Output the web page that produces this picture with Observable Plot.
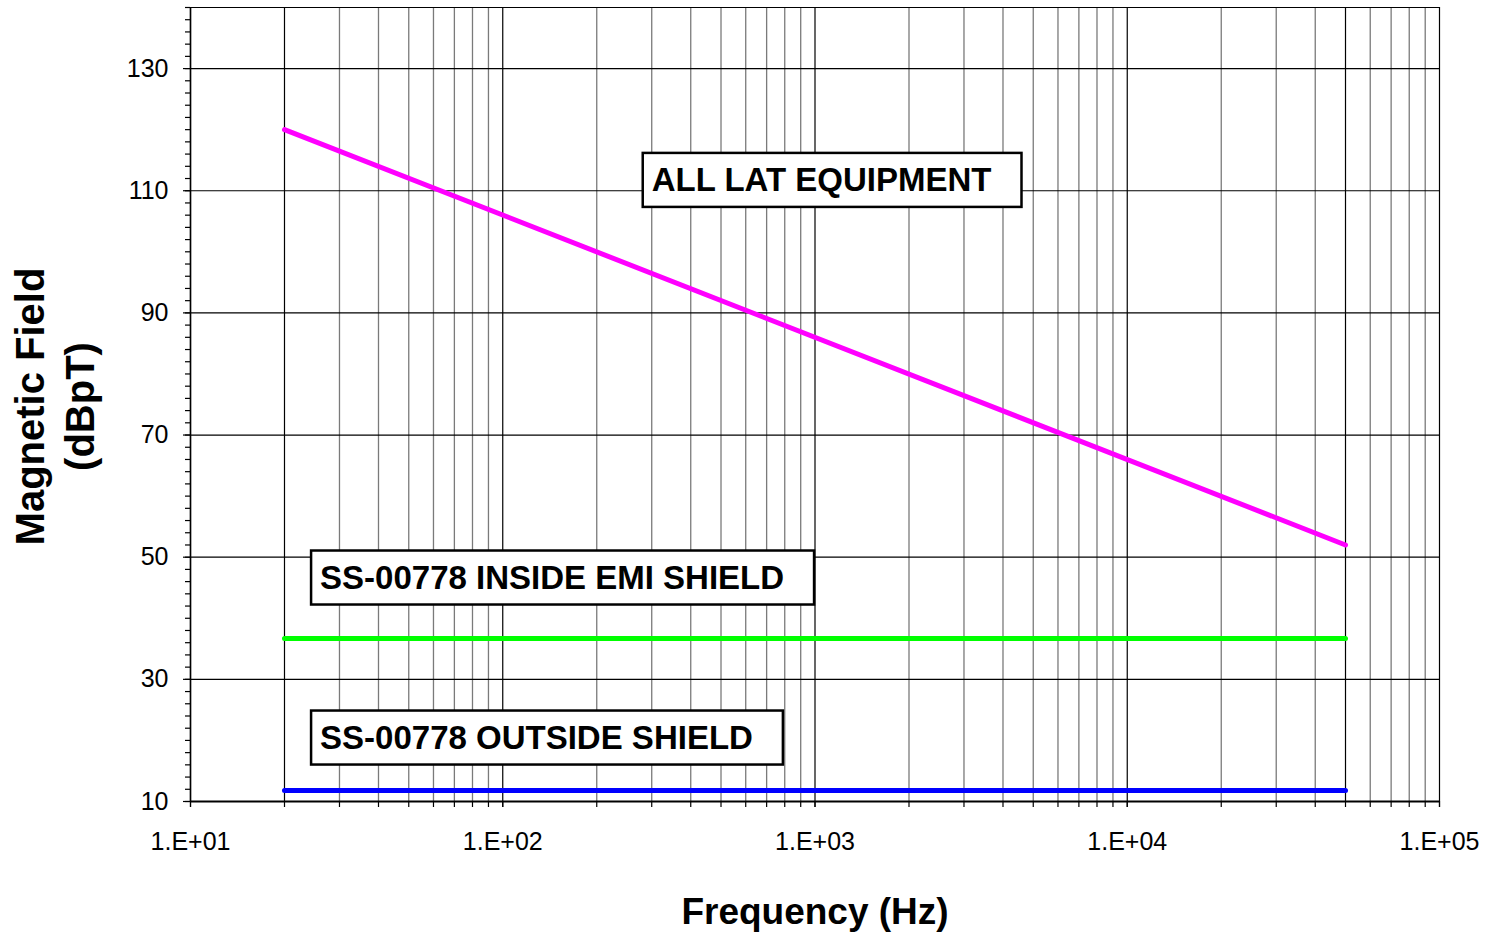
<!DOCTYPE html>
<html>
<head>
<meta charset="utf-8">
<script src="https://cdn.jsdelivr.net/npm/d3@7"></script>
<script src="https://cdn.jsdelivr.net/npm/@observablehq/plot@0.6"></script>
<style>
  html, body { margin: 0; padding: 0; background: #fff; }
  #chart { width: 1493px; height: 937px; }
</style>
</head>
<body>
<div id="chart"></div>
<script>
// Frequency end points of each limit (Hz)
const frequencies = [20, 50000];
// Magnetic field limits (dBpT) at those end points
const allLatEquipment = [120, 52];
const insideEmiShield = [36.7, 36.7];
const outsideShield = [11.8, 11.8];

// Axis ticks
const yMajorTicks = [10, 30, 50, 70, 90, 110, 130];
const decadeTicks = [10, 100, 1000, 10000, 100000];
const decadeLabels = ["1.E+01", "1.E+02", "1.E+03", "1.E+04", "1.E+05"];

// Limit names and where their captions sit (frequency, dBpT)
const labelNames = ["ALL LAT EQUIPMENT", "SS-00778 INSIDE EMI SHIELD", "SS-00778 OUTSIDE SHIELD"];
const labelFreq = [300, 26, 26];
const labelLevel = [111.7, 46.6, 20.4];

const seriesColors = ["#ff00ff", "#00ff00", "#0000ff"];

// Build a long table for the line marks
const seriesValues = [allLatEquipment, insideEmiShield, outsideShield];
const lineRows = seriesValues.flatMap((vals, s) =>
  vals.map((v, i) => ({series: labelNames[s], f: frequencies[i], db: v}))
);
const labelRows = labelNames.map((name, i) => ({name, f: labelFreq[i], db: labelLevel[i]}));

// Log-decade grid: every integer multiple within each decade
const minorX = [];
const allX = [];
for (let k = 1; k <= 4; k++) {
  for (let m = 1; m <= 9; m++) {
    const v = m * 10 ** k;
    allX.push(v);
    if (m !== 1) minorX.push(v);
  }
}
allX.push(100000);
const blackX = [...decadeTicks, ...frequencies];
const minorGrayX = minorX.filter(v => !frequencies.includes(v));
const yMinorTicks = d3.range(10, 141, 2);
const labelOf = new Map(decadeTicks.map((d, i) => [d, decadeLabels[i]]));

const chart = Plot.plot({
  width: 1493,
  height: 937,
  marginLeft: 190,
  marginRight: 54,
  marginTop: 7,
  marginBottom: 136,
  style: {fontFamily: "'Liberation Sans', Arial, sans-serif", fontSize: "25px", background: "white", color: "black"},
  x: {type: "log", domain: [10, 100000]},
  y: {domain: [10, 140]},
  marks: [
    // grid
    Plot.ruleX(minorGrayX, {stroke: "#7a7a7a", strokeWidth: 1.3}),
    Plot.ruleX(blackX, {stroke: "#000", strokeWidth: 1.2}),
    Plot.ruleY([...yMajorTicks, 140], {stroke: "#000", strokeWidth: 1.2}),
    // y axis ticks
    Plot.axisY(yMinorTicks, {tickSize: 5, tickFormat: () => "", label: null, strokeWidth: 1.2}),
    Plot.axisY(yMajorTicks, {tickSize: 7, tickPadding: 15, label: null, fontSize: 25, strokeWidth: 1.2, tickFormat: d => String(d)}),
    // x axis ticks
    Plot.axisX(allX, {tickSize: 6, tickFormat: () => "", label: null, strokeWidth: 1.2}),
    Plot.axisX(decadeTicks, {tickSize: 6, tickPadding: 25, label: null, fontSize: 25, strokeWidth: 1.2, tickFormat: d => labelOf.get(d)}),
    // axis lines
    Plot.ruleX([10], {stroke: "#000", strokeWidth: 1.5}),
    Plot.ruleY([10], {stroke: "#000", strokeWidth: 2}),
    // limit lines
    Plot.line(lineRows, {
      x: "f", y: "db", z: "series",
      stroke: d => seriesColors[labelNames.indexOf(d.series)],
      strokeWidth: 5, strokeLinecap: "round"
    }),
    // limit captions
    Plot.text(labelRows, {
      x: "f", y: "db", text: "name",
      textAnchor: "start", lineAnchor: "middle",
      fontSize: 33, fontWeight: "bold", fill: "#000"
    }),
    // axis titles
    Plot.text(["Frequency (Hz)"], {
      frameAnchor: "bottom", dy: 111, lineAnchor: "middle",
      fontSize: 37, fontWeight: "bold", fill: "#000"
    }),
    Plot.text(["Magnetic Field\n(dBpT)"], {
      frameAnchor: "left", dx: -138, dy: 2, rotate: -90,
      textAnchor: "middle", lineAnchor: "middle",
      lineHeight: 1.25, fontSize: 40, fontWeight: "bold", fill: "#000"
    })
  ]
});

document.getElementById("chart").appendChild(chart);

// Framed white boxes behind the limit captions
const NS = "http://www.w3.org/2000/svg";
chart.querySelectorAll("text").forEach(t => {
  if (!labelNames.includes(t.textContent)) return;
  const b = t.getBBox();
  const r = document.createElementNS(NS, "rect");
  r.setAttribute("x", b.x - 9);
  r.setAttribute("y", b.y - 8);
  r.setAttribute("width", b.width + 9 + 30);
  r.setAttribute("height", b.height + 8 + 9);
  r.setAttribute("fill", "#fff");
  r.setAttribute("stroke", "#000");
  r.setAttribute("stroke-width", 2.5);
  const tr = t.getAttribute("transform");
  if (tr) r.setAttribute("transform", tr);
  t.parentNode.insertBefore(r, t);
});
</script>
</body>
</html>
